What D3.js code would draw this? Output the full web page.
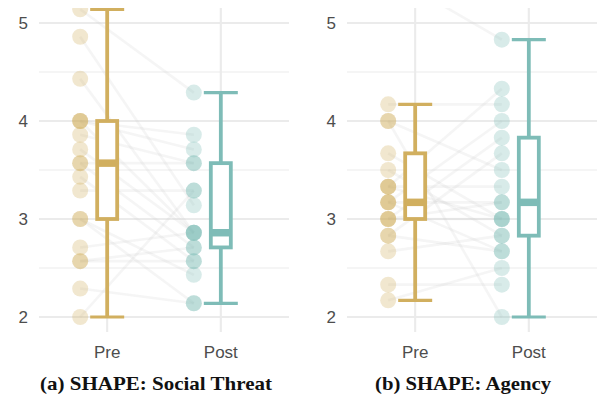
<!DOCTYPE html>
<html>
<head>
<meta charset="utf-8">
<script src="https://cdn.jsdelivr.net/npm/d3@7"></script>
<style>
  html, body { margin: 0; padding: 0; background: #fff; }
  svg { display: block; }
</style>
</head>
<body>
<svg id="chart" width="599" height="402"></svg>
<script>
// ---------- data ----------
const categories = ["Pre", "Post"];
const yTicks = [2, 3, 4, 5];
const yMinor = [2.5, 3.5, 4.5];

// Panel (a) SHAPE: Social Threat — paired participant scores
const threatPre  = [5.14, 4.86, 4.43, 4.00, 4.00, 4.00, 3.86, 3.71, 3.57, 3.57, 3.43, 3.29, 3.00, 3.00, 2.71, 2.57, 2.57, 2.29, 2.00];
const threatPost = [4.29, 3.14, 2.86, 3.86, 2.86, 3.71, 3.57, 2.86, 3.57, 2.71, 2.57, 3.29, 2.43, 2.14, 2.86, 2.57, 2.71, 2.14, 3.29];
// box stats [whiskerLow, q1, median, q3, whiskerHigh]
const threatBoxPre  = [2.00, 3.00, 3.57, 4.00, 5.14];
const threatBoxPost = [2.14, 2.71, 2.86, 3.57, 4.29];

// Panel (b) SHAPE: Agency
const agencyPre  = [5.50, 4.17, 4.00, 4.00, 3.67, 3.50, 3.33, 3.33, 3.33, 3.17, 3.17, 3.17, 3.00, 3.00, 3.00, 2.83, 2.83, 2.67, 2.33, 2.17];
const agencyPost = [4.83, 4.17, 3.50, 2.00, 3.00, 2.83, 4.33, 3.33, 3.00, 4.00, 3.17, 2.67, 3.83, 3.17, 3.00, 3.67, 2.67, 2.83, 2.33, 2.50];
const agencyBoxPre  = [2.17, 3.00, 3.17, 3.67, 4.17];
const agencyBoxPost = [2.00, 2.83, 3.17, 3.83, 4.83];

const captions = ["(a) SHAPE: Social Threat", "(b) SHAPE: Agency"];

// ---------- styling ----------
const colors = { Pre: "#D1AF5F", Post: "#7EBCB7" };
const textColor = "#4d4d4d";

const panels = [
  { pre: threatPre, post: threatPost, box: { Pre: threatBoxPre, Post: threatBoxPost }, x0: 39, x1: 289, labelX: 28, caption: captions[0], capX: 156, capW: 232 },
  { pre: agencyPre, post: agencyPost, box: { Pre: agencyBoxPre, Post: agencyBoxPost }, x0: 347, x1: 597, labelX: 336, caption: captions[1], capX: 463, capW: 176 }
];

const svg = d3.select("#chart");
const plotTop = 8, plotBottom = 332;
const y = d3.scaleLinear().domain([2, 5]).range([317, 23]);

panels.forEach((p, i) => {
  const x = d3.scalePoint().domain(categories).range([p.x0, p.x1]).padding(0.6);
  const g = svg.append("g");
  const clipId = "clip" + i;
  svg.append("defs").append("clipPath").attr("id", clipId)
    .append("rect").attr("x", p.x0).attr("y", plotTop).attr("width", p.x1 - p.x0).attr("height", plotBottom - plotTop);

  // grid
  g.selectAll(".minor").data(yMinor).join("line")
    .attr("x1", p.x0).attr("x2", p.x1).attr("y1", d => y(d)).attr("y2", d => y(d))
    .attr("stroke", "#ebebeb").attr("stroke-width", 1.1);
  g.selectAll(".major").data(yTicks).join("line")
    .attr("x1", p.x0).attr("x2", p.x1).attr("y1", d => y(d)).attr("y2", d => y(d))
    .attr("stroke", "#ebebeb").attr("stroke-width", 2.1);
  g.selectAll(".vgrid").data(categories).join("line")
    .attr("x1", d => x(d)).attr("x2", d => x(d)).attr("y1", plotTop).attr("y2", plotBottom)
    .attr("stroke", "#ebebeb").attr("stroke-width", 2.1);

  // axis labels
  g.selectAll(".ylab").data(yTicks).join("text")
    .attr("x", p.labelX).attr("y", d => y(d)).attr("dy", "0.36em")
    .attr("text-anchor", "end").attr("fill", textColor)
    .style("font-family", "'Liberation Sans', Arial, sans-serif").style("font-size", "17px")
    .text(d => d);
  g.selectAll(".xlab").data(categories).join("text")
    .attr("x", d => x(d)).attr("y", 358)
    .attr("text-anchor", "middle").attr("fill", textColor)
    .style("font-family", "'Liberation Sans', Arial, sans-serif").style("font-size", "17px")
    .text(d => d);

  const clipped = g.append("g").attr("clip-path", `url(#${clipId})`);
  const nudge = -27;
  const pairs = p.pre.map((v, k) => ({ pre: v, post: p.post[k] }));

  // paired lines
  clipped.selectAll(".pair").data(pairs).join("line")
    .attr("x1", x("Pre") + nudge).attr("x2", x("Post") + nudge)
    .attr("y1", d => y(d.pre)).attr("y2", d => y(d.post))
    .attr("stroke", "#cccccc").attr("stroke-opacity", 0.2).attr("stroke-width", 2.6);

  // points
  [["Pre", p.pre], ["Post", p.post]].forEach(([cat, vals]) => {
    clipped.selectAll(".pt" + cat).data(vals).join("circle")
      .attr("cx", x(cat) + nudge).attr("cy", d => y(d)).attr("r", 8)
      .attr("fill", colors[cat]).attr("fill-opacity", 0.3);
  });

  // boxplots
  const bw = 20, cap = 34;
  categories.forEach(cat => {
    const [lo, q1, med, q3, hi] = p.box[cat];
    const cx = x(cat), c = colors[cat];
    const b = clipped.append("g");
    b.append("line").attr("x1", cx).attr("x2", cx).attr("y1", y(hi)).attr("y2", y(q3))
      .attr("stroke", c).attr("stroke-width", 3.8);
    b.append("line").attr("x1", cx).attr("x2", cx).attr("y1", y(q1)).attr("y2", y(lo))
      .attr("stroke", c).attr("stroke-width", 3.8);
    b.append("line").attr("x1", cx - cap / 2).attr("x2", cx + cap / 2).attr("y1", y(hi)).attr("y2", y(hi))
      .attr("stroke", c).attr("stroke-width", 3.2);
    b.append("line").attr("x1", cx - cap / 2).attr("x2", cx + cap / 2).attr("y1", y(lo)).attr("y2", y(lo))
      .attr("stroke", c).attr("stroke-width", 3.2);
    b.append("rect").attr("x", cx - bw / 2).attr("width", bw)
      .attr("y", y(q3)).attr("height", y(q1) - y(q3))
      .attr("fill", "#fff").attr("stroke", c).attr("stroke-width", 3.8);
    b.append("line").attr("x1", cx - bw / 2).attr("x2", cx + bw / 2).attr("y1", y(med)).attr("y2", y(med))
      .attr("stroke", c).attr("stroke-width", 7.5);
  });

  // caption
  svg.append("text").attr("x", p.capX).attr("y", 390).attr("text-anchor", "middle")
    .attr("fill", "#111")
    .attr("textLength", p.capW).attr("lengthAdjust", "spacingAndGlyphs")
    .style("font-family", "'Liberation Serif', 'DejaVu Serif', serif").style("font-weight", "bold").style("font-size", "19px")
    .text(p.caption);
});
</script>
</body>
</html>
